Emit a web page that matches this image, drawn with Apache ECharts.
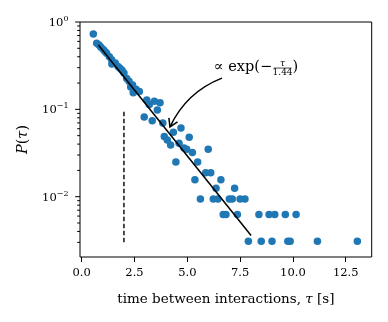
<!DOCTYPE html>
<html><head><meta charset="utf-8">
<script src="https://cdn.jsdelivr.net/npm/echarts@6/dist/echarts.min.js"></script>
<style>html,body{margin:0;padding:0;background:#fff}#c{width:388px;height:322px}</style>
</head><body><div id="c"></div>
<script>
// measured data: inter-event times tau [s] and probability P(tau)
const tau = [0.55, 0.71, 0.82, 0.91, 1.02, 1.10, 1.18, 1.31, 1.42, 1.43, 1.59, 1.72, 1.81, 1.91, 2.00,
  2.13, 2.24, 2.32, 2.41, 2.44, 2.57, 2.73, 2.96, 3.08, 3.20, 3.34, 3.44, 3.58, 3.71, 3.84,
  3.91, 4.05, 4.21, 4.34, 4.46, 4.61, 4.70, 4.84, 4.97, 5.09, 5.24, 5.36, 5.49, 5.62, 5.87,
  5.99, 6.11, 6.23, 6.36, 6.45, 6.59, 6.70, 6.83, 6.99, 7.13, 7.24, 7.37, 7.50, 7.73, 7.89,
  8.39, 8.50, 8.87, 9.01, 9.14, 9.64, 9.76, 9.87, 10.15, 11.16, 13.05];
const prob = [0.73, 0.57, 0.545, 0.515, 0.485, 0.46, 0.44, 0.40, 0.37, 0.33, 0.34, 0.31, 0.295, 0.28, 0.26,
  0.225, 0.21, 0.18, 0.19, 0.155, 0.17, 0.16, 0.082, 0.128, 0.114, 0.074, 0.124, 0.098, 0.119, 0.070,
  0.049, 0.0445, 0.039, 0.0545, 0.025, 0.041, 0.061, 0.036, 0.035, 0.048, 0.032, 0.0156, 0.025, 0.0094, 0.0188,
  0.035, 0.0188, 0.0094, 0.0125, 0.0094, 0.0156, 0.00625, 0.00625, 0.0094, 0.0094, 0.0125, 0.00625, 0.0094, 0.0094, 0.0031,
  0.00625, 0.0031, 0.00625, 0.0031, 0.00625, 0.00625, 0.0031, 0.0031, 0.00625, 0.0031, 0.0031];
// exponential fit endpoints (straight on log axis)
const fitTau = [0.79, 8.02];
const fitP = [0.5455, 0.0036];
// dashed threshold
const threshTau = [2.0, 2.0];
const threshP = [0.003, 0.1];
// annotation
const arrowFrom = [6.64, 0.228];
const arrowTo = [4.18, 0.063];
const annotationAt = [9.51, 0.297];
const annText = '\u221d exp(\u2212';
const annNum = '\u03c4';
const annDen = '1.44';
// axes
const xTickValues = [0, 2.5, 5, 7.5, 10, 12.5];
const yMajorTicks = [0.01, 0.1, 1];
const yMinorTicks = [0.003, 0.004, 0.005, 0.006, 0.007, 0.008, 0.009,
  0.02, 0.03, 0.04, 0.05, 0.06, 0.07, 0.08, 0.09,
  0.2, 0.3, 0.4, 0.5, 0.6, 0.7, 0.8, 0.9];
const xRange = [-0.08, 13.73];
const yRange = [0.00204, 1];
const xTitle = 'time between interactions, {i|\u03c4} [s]';
const yTitle = '{i|P}({i|\u03c4})';

const FONT = '"DejaVu Serif", "Liberation Serif", serif';
const chart = echarts.init(document.getElementById('c'), null, {renderer: 'canvas'});

function yLabel(v) {
  if (!(v > 0)) return '';
  const e = Math.log10(v);
  const r = Math.round(e);
  if (Math.abs(e - r) > 1e-6) return '';
  const s = String(r).replace('-', '\u2212');
  return '{b|10}{e|' + s + '}';
}

const tickData = yMajorTicks.map(v => [xRange[0], v, 1]).concat(yMinorTicks.map(v => [xRange[0], v, 0]));

chart.setOption({
  animation: false,
  backgroundColor: '#fff',
  grid: {left: 80, top: 22, right: 16.3, bottom: 65, show: true, borderColor: '#000', borderWidth: 1,
    backgroundColor: 'transparent', containLabel: false, outerBoundsMode: 'none'},
  xAxis: {
    type: 'value', min: xRange[0], max: xRange[1],
    axisLine: {show: false, onZero: false},
    splitLine: {show: false},
    axisTick: {show: true, customValues: xTickValues, length: 5, lineStyle: {color: '#000', width: 1}},
    axisLabel: {customValues: xTickValues, formatter: v => v.toFixed(1), color: '#000',
      fontFamily: FONT, fontSize: 11.5, margin: 10},
    name: xTitle, nameLocation: 'middle', nameGap: 35,
    nameTextStyle: {color: '#000', fontFamily: FONT, fontSize: 13.5,
      rich: {i: {fontStyle: 'italic', fontFamily: FONT, fontSize: 13.5, color: '#000'}}}
  },
  yAxis: {
    type: 'log', logBase: 10, min: yRange[0], max: yRange[1],
    axisLine: {show: false},
    splitLine: {show: false},
    minorTick: {show: false},
    axisTick: {show: false},
    axisLabel: {formatter: yLabel, margin: 11.5, color: '#000', fontFamily: FONT, fontSize: 11.5,
      showMinLabel: true, showMaxLabel: true,
      rich: {
        b: {fontFamily: FONT, fontSize: 11.5, color: '#000', verticalAlign: 'bottom'},
        e: {fontFamily: FONT, fontSize: 8, color: '#000', verticalAlign: 'bottom', padding: [0, 0, 6, 0]}
      }},
    name: yTitle, nameLocation: 'middle', nameGap: 46, nameRotate: 90,
    nameTextStyle: {color: '#000', fontFamily: FONT, fontSize: 14.5,
      rich: {i: {fontStyle: 'italic', fontFamily: FONT, fontSize: 14.5, color: '#000'}}}
  },
  series: [
    {
      type: 'custom', name: 'yticks', silent: true, z: 5,
      data: tickData,
      renderItem: function (params, api) {
        const p = api.coord([api.value(0), api.value(1)]);
        const len = api.value(2) ? 4.9 : 2.8;
        return {type: 'line', shape: {x1: p[0] - len, y1: p[1], x2: p[0], y2: p[1]},
          style: {stroke: '#000', lineWidth: 1}};
      }
    },
    {
      type: 'scatter', name: 'data', z: 2,
      data: tau.map((t, i) => [t, prob[i]]),
      symbol: 'circle', symbolSize: 7.5,
      itemStyle: {color: '#1f77b4', opacity: 1}
    },
    {
      type: 'line', name: 'fit', z: 3, symbol: 'none',
      data: fitTau.map((t, i) => [t, fitP[i]]),
      lineStyle: {color: '#000', width: 1.5}
    },
    {
      type: 'line', name: 'threshold', z: 3, symbol: 'none',
      data: threshTau.map((t, i) => [t, threshP[i]]),
      lineStyle: {color: '#000', width: 1.4, type: [4.5, 2.5]}
    },
    {
      type: 'custom', name: 'arrow', silent: true, z: 6,
      data: [[arrowFrom[0], arrowFrom[1], arrowTo[0], arrowTo[1]]],
      renderItem: function (params, api) {
        const S = api.coord([api.value(0), api.value(1)]);
        const E = api.coord([api.value(2), api.value(3)]);
        const dx = E[0] - S[0], dy = E[1] - S[1];
        const rad = 0.2;
        const C = [(S[0] + E[0]) / 2 - rad * dy, (S[1] + E[1]) / 2 + rad * dx];
        let tx = E[0] - C[0], ty = E[1] - C[1];
        const n = Math.hypot(tx, ty); tx /= n; ty /= n;
        const L = 9, a = 32 * Math.PI / 180;
        const bx = -tx, by = -ty;
        const a1 = [E[0] + L * (bx * Math.cos(a) - by * Math.sin(a)), E[1] + L * (bx * Math.sin(a) + by * Math.cos(a))];
        const a2 = [E[0] + L * (bx * Math.cos(-a) - by * Math.sin(-a)), E[1] + L * (bx * Math.sin(-a) + by * Math.cos(-a))];
        return {type: 'group', children: [
          {type: 'bezierCurve', shape: {x1: S[0], y1: S[1], x2: E[0], y2: E[1], cpx1: C[0], cpy1: C[1]},
            style: {stroke: '#000', lineWidth: 1.5, fill: null}},
          {type: 'polyline', shape: {points: [a1, E, a2]},
            style: {stroke: '#000', lineWidth: 1.5, fill: null}}
        ]};
      }
    },
    {
      type: 'custom', name: 'annotation', silent: true, z: 6,
      data: [annotationAt],
      renderItem: function (params, api) {
        const p = api.coord([api.value(0), api.value(1)]);
        return {type: 'group', children: [
          {type: 'text', style: {text: annText, x: p[0] - 10.5, y: p[1] - 0.5, align: 'right', verticalAlign: 'middle',
            fontFamily: FONT, fontSize: 14.5, fill: '#000'}},
          {type: 'text', style: {text: annNum, x: p[0], y: p[1] - 4.5, align: 'center', verticalAlign: 'middle',
            fontFamily: FONT, fontSize: 9, fontStyle: 'italic', fill: '#000'}},
          {type: 'line', shape: {x1: p[0] - 9, y1: p[1], x2: p[0] + 9, y2: p[1]}, style: {stroke: '#000', lineWidth: 0.7}},
          {type: 'text', style: {text: annDen, x: p[0], y: p[1] + 5, align: 'center', verticalAlign: 'middle',
            fontFamily: FONT, fontSize: 9, fill: '#000'}},
          {type: 'text', style: {text: ')', x: p[0] + 10, y: p[1] - 0.5, align: 'left', verticalAlign: 'middle',
            fontFamily: FONT, fontSize: 14.5, fill: '#000'}}
        ]};
      }
    }
  ]
});
</script></body></html>
